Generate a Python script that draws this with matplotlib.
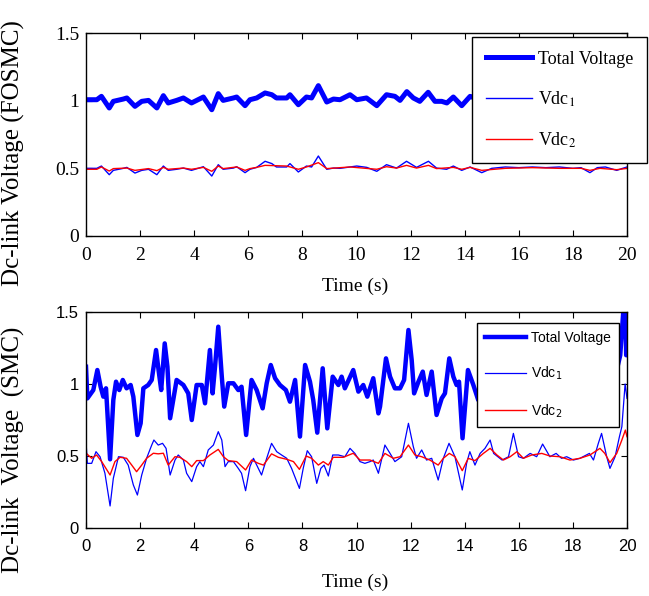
import numpy as np
import matplotlib.pyplot as plt

# ---- data ----
# upper panel (FOSMC)
t_fo_total = [0.0, 0.40, 0.57, 0.86, 1.01, 1.38, 1.51, 1.81, 2.06, 2.31, 2.62, 2.86, 3.04, 3.35,
              3.60, 3.90, 4.34, 4.65, 4.89, 5.07, 5.45, 5.57, 5.88, 6.06, 6.31, 6.62, 6.87, 7.04,
              7.42, 7.54, 7.85, 8.15, 8.34, 8.59, 8.90, 9.15, 9.39, 9.76, 10.01, 10.37, 10.75,
              11.11, 11.42, 11.61, 11.86, 12.10, 12.34, 12.65, 12.90, 13.15, 13.34, 13.58, 13.89,
              14.20, 14.50, 15.0, 15.5, 16.0, 16.5, 17.0, 17.5, 18.0, 18.6, 19.0, 19.6, 20.0]
fo_total = [1.007, 1.007, 1.032, 0.946, 0.995, 1.012, 1.020, 0.958, 0.995, 1.002, 0.946, 1.037,
            0.983, 1.002, 1.020, 0.983, 1.027, 0.933, 1.052, 1.002, 1.020, 1.027, 0.963, 1.007,
            1.020, 1.057, 1.044, 1.020, 1.020, 1.044, 0.970, 1.027, 1.020, 1.111, 0.990, 1.012,
            1.007, 1.044, 1.007, 1.020, 0.963, 1.044, 1.032, 1.002, 1.067, 1.020, 0.995, 1.062,
            0.995, 0.995, 0.983, 1.027, 0.963, 1.032, 1.010, 1.000, 1.020, 0.990, 1.020, 1.000,
            1.010, 1.000, 0.970, 1.010, 0.980, 1.010]

t_fo_v1 = [0.0, 0.40, 0.57, 0.86, 1.01, 1.38, 1.51, 1.81, 2.06, 2.31, 2.62, 2.86, 3.04, 3.35,
           3.60, 3.90, 4.34, 4.65, 4.89, 5.07, 5.45, 5.57, 5.88, 6.06, 6.31, 6.62, 6.87, 7.04,
           7.42, 7.54, 7.85, 8.15, 8.34, 8.59, 8.90, 9.15, 9.39, 9.76, 10.01, 10.38, 10.75,
           11.11, 11.48, 11.85, 12.22, 12.66, 12.96, 13.33, 13.58, 13.89, 14.20, 14.63, 15.0,
           15.5, 16.0, 16.5, 17.0, 17.5, 18.0, 18.3, 18.63, 18.9, 19.2, 19.62, 20.0]
fo_v1 = [0.500, 0.500, 0.517, 0.453, 0.485, 0.500, 0.507, 0.465, 0.485, 0.493, 0.453, 0.517,
         0.485, 0.493, 0.502, 0.485, 0.512, 0.443, 0.527, 0.493, 0.502, 0.512, 0.468, 0.493,
         0.507, 0.552, 0.535, 0.510, 0.510, 0.535, 0.473, 0.517, 0.510, 0.591, 0.493, 0.502,
         0.500, 0.510, 0.517, 0.507, 0.478, 0.527, 0.502, 0.552, 0.507, 0.552, 0.502, 0.493,
         0.517, 0.485, 0.510, 0.468, 0.500, 0.510, 0.505, 0.510, 0.505, 0.510, 0.500, 0.505,
         0.468, 0.505, 0.510, 0.485, 0.510]

t_fo_v2 = [0.0, 0.40, 0.57, 0.86, 1.01, 1.51, 1.81, 2.31, 2.62, 2.86, 3.04, 3.60, 3.90, 4.34,
           4.65, 4.89, 5.07, 5.57, 5.88, 6.06, 6.31, 6.62, 7.42, 7.85, 8.15, 8.59, 8.90, 9.76,
           10.75, 11.11, 11.48, 11.85, 12.22, 12.66, 12.96, 13.58, 13.89, 14.20, 14.63, 15.5,
           16.5, 17.5, 18.3, 18.63, 19.0, 19.62, 20.0]
fo_v2 = [0.493, 0.493, 0.510, 0.480, 0.498, 0.502, 0.485, 0.498, 0.483, 0.507, 0.493, 0.502,
         0.493, 0.507, 0.478, 0.517, 0.498, 0.510, 0.485, 0.498, 0.507, 0.522, 0.517, 0.493,
         0.510, 0.542, 0.498, 0.510, 0.493, 0.512, 0.502, 0.522, 0.502, 0.522, 0.498, 0.507,
         0.493, 0.507, 0.485, 0.500, 0.505, 0.500, 0.500, 0.485, 0.500, 0.490, 0.500]

# lower panel (SMC)
t_smc_total = [0.0, 0.05, 0.27, 0.42, 0.54, 0.64, 0.74, 0.89, 1.01, 1.11, 1.23, 1.36, 1.50,
               1.65, 1.75, 1.90, 2.02, 2.12, 2.30, 2.43, 2.59, 2.69, 2.78, 2.91, 3.01, 3.11,
               3.35, 3.60, 3.78, 3.91, 4.09, 4.28, 4.40, 4.58, 4.68, 4.77, 4.89, 5.02, 5.11,
               5.26, 5.45, 5.63, 5.75, 5.92, 6.12, 6.31, 6.53, 6.68, 6.83, 6.99, 7.17, 7.39,
               7.54, 7.73, 7.91, 8.10, 8.28, 8.40, 8.55, 8.75, 8.92, 9.12, 9.33, 9.45, 9.57,
               9.88, 10.07, 10.25, 10.40, 10.62, 10.81, 10.87, 11.09, 11.24, 11.42, 11.61,
               11.76, 11.92, 12.04, 12.13, 12.29, 12.45, 12.59, 12.78, 12.96, 13.15, 13.27,
               13.43, 13.58, 13.70, 13.79, 13.92, 14.12, 14.32, 14.50, 15.0, 15.5, 16.0, 16.5,
               17.0, 17.5, 18.0, 18.5, 19.0, 19.5, 19.75, 19.88, 19.93, 19.97, 20.0]
smc_total = [1.120, 0.900, 0.958, 1.097, 0.981, 0.912, 0.970, 0.477, 0.889, 1.016, 0.958, 1.028,
             0.970, 0.993, 0.912, 0.646, 0.727, 0.970, 0.993, 1.028, 1.236, 1.086, 0.958, 1.282,
             1.120, 0.762, 1.028, 0.993, 0.935, 0.750, 0.993, 0.993, 0.866, 1.236, 0.935, 1.120,
             1.398, 1.051, 0.843, 1.005, 1.005, 0.958, 0.981, 0.646, 1.028, 0.958, 0.831, 1.005,
             1.132, 1.040, 0.993, 0.958, 0.877, 1.028, 0.635, 1.132, 1.016, 0.889, 0.662, 1.109,
             0.692, 1.051, 0.993, 1.051, 0.970, 1.097, 0.947, 0.993, 0.912, 1.040, 0.796, 0.843,
             1.178, 1.051, 0.970, 0.970, 1.028, 1.375, 1.167, 0.935, 1.016, 1.086, 0.924, 1.086,
             0.785, 0.900, 0.935, 1.178, 1.051, 0.993, 1.016, 0.623, 1.097, 0.993, 0.889, 1.050,
             0.950, 1.080, 0.980, 1.050, 0.950, 1.020, 0.950, 1.050, 1.000, 1.200, 1.550, 1.600,
             1.200, 1.200]

t_smc_v1 = [0.0, 0.05, 0.21, 0.37, 0.52, 0.70, 0.89, 1.01, 1.20, 1.38, 1.56, 1.75, 1.90, 2.06,
            2.24, 2.43, 2.51, 2.67, 2.83, 2.96, 3.11, 3.29, 3.41, 3.60, 3.72, 3.91, 4.09, 4.21,
            4.34, 4.52, 4.71, 4.89, 5.02, 5.14, 5.26, 5.45, 5.63, 5.75, 5.90, 6.06, 6.19, 6.37,
            6.49, 6.68, 6.86, 7.05, 7.23, 7.42, 7.60, 7.89, 8.03, 8.18, 8.34, 8.53, 8.68, 8.80,
            8.96, 9.12, 9.33, 9.57, 9.76, 9.94, 10.13, 10.31, 10.50, 10.62, 10.81, 11.05, 11.24,
            11.42, 11.67, 11.92, 12.10, 12.22, 12.41, 12.59, 12.78, 13.02, 13.21, 13.42, 13.64,
            13.91, 14.07, 14.19, 14.38, 14.57, 14.75, 14.94, 15.07, 15.38, 15.62, 15.80, 15.99,
            16.17, 16.42, 16.66, 16.88, 17.15, 17.38, 17.58, 17.77, 18.02, 18.26, 18.61, 18.76,
            18.94, 19.06, 19.25, 19.37, 19.56, 19.72, 19.81, 19.93, 20.0]
smc_v1 = [0.600, 0.449, 0.449, 0.530, 0.495, 0.380, 0.153, 0.345, 0.495, 0.491, 0.437, 0.299,
          0.229, 0.368, 0.484, 0.576, 0.611, 0.576, 0.588, 0.553, 0.368, 0.472, 0.507, 0.472,
          0.380, 0.322, 0.426, 0.461, 0.426, 0.542, 0.576, 0.669, 0.611, 0.426, 0.461, 0.461,
          0.414, 0.380, 0.259, 0.426, 0.484, 0.414, 0.368, 0.484, 0.588, 0.530, 0.507, 0.484,
          0.414, 0.275, 0.414, 0.537, 0.495, 0.310, 0.414, 0.437, 0.361, 0.507, 0.507, 0.495,
          0.553, 0.518, 0.461, 0.449, 0.461, 0.472, 0.380, 0.576, 0.518, 0.461, 0.495, 0.727,
          0.565, 0.484, 0.542, 0.472, 0.484, 0.333, 0.484, 0.588, 0.495, 0.264, 0.449, 0.530,
          0.437, 0.518, 0.553, 0.611, 0.518, 0.472, 0.495, 0.657, 0.495, 0.484, 0.518, 0.495,
          0.583, 0.495, 0.518, 0.484, 0.495, 0.472, 0.484, 0.518, 0.472, 0.588, 0.657, 0.495,
          0.414, 0.495, 0.634, 0.704, 1.000, 0.900]

t_smc_v2 = [0.0, 0.21, 0.39, 0.58, 0.89, 1.07, 1.26, 1.50, 1.69, 1.87, 2.06, 2.24, 2.49, 2.67,
            2.86, 3.04, 3.29, 3.47, 3.72, 3.91, 4.09, 4.34, 4.58, 4.89, 5.08, 5.26, 5.57, 5.90,
            6.12, 6.37, 6.56, 6.86, 7.11, 7.42, 7.67, 7.89, 8.14, 8.34, 8.59, 8.77, 8.96, 9.14,
            9.51, 9.88, 10.13, 10.50, 10.81, 11.05, 11.36, 11.61, 11.92, 12.16, 12.41, 12.71,
            13.02, 13.21, 13.43, 13.64, 13.91, 14.13, 14.38, 14.69, 14.94, 15.19, 15.43, 15.68,
            15.93, 16.17, 16.48, 16.85, 17.15, 17.52, 17.89, 18.26, 18.63, 19.00, 19.18, 19.37,
            19.62, 19.81, 19.94, 20.0]
smc_v2 = [0.520, 0.484, 0.507, 0.461, 0.368, 0.461, 0.491, 0.484, 0.437, 0.391, 0.437, 0.484,
          0.519, 0.515, 0.519, 0.437, 0.495, 0.491, 0.461, 0.426, 0.468, 0.468, 0.507, 0.546,
          0.495, 0.468, 0.461, 0.403, 0.472, 0.449, 0.437, 0.515, 0.491, 0.477, 0.461, 0.407,
          0.500, 0.484, 0.437, 0.461, 0.437, 0.491, 0.491, 0.519, 0.472, 0.472, 0.449, 0.518,
          0.484, 0.495, 0.576, 0.507, 0.495, 0.472, 0.437, 0.484, 0.518, 0.495, 0.398, 0.484,
          0.468, 0.518, 0.553, 0.507, 0.472, 0.495, 0.530, 0.484, 0.507, 0.518, 0.500, 0.495,
          0.472, 0.484, 0.507, 0.553, 0.518, 0.454, 0.518, 0.611, 0.680, 0.634]

x_ticks = [0, 2, 4, 6, 8, 10, 12, 14, 16, 18, 20]
y_ticks = [0, 0.5, 1, 1.5]
y_ticklabels = ['0', '0.5', '1', '1.5']
legend_labels = ['Total Voltage', 'Vdc$_1$', 'Vdc$_2$']

BLUE = '#0000ff'
RED = '#ff0000'
SERIF = ['Liberation Serif', 'DejaVu Serif']
SANS = ['Liberation Sans', 'DejaVu Sans']

fig = plt.figure(figsize=(6.49, 5.96), dpi=100)
W, H = 649, 596
ax1 = fig.add_axes([86/W, 1-236/H, 541/W, 203/H])
ax2 = fig.add_axes([86/W, 1-528/H, 541/W, 216/H])


def style_axes(ax, fam, tsize):
    ax.set_xlim(0, 20)
    ax.set_ylim(0, 1.5)
    ax.set_xticks(x_ticks)
    ax.set_yticks(y_ticks)
    ax.set_yticklabels(y_ticklabels)
    ax.tick_params(direction='in', top=True, right=True, length=4, width=0.8,
                   labelsize=tsize)
    ax.tick_params(axis='x', pad=8)
    ax.tick_params(axis='y', pad=5)
    for lab in ax.get_xticklabels() + ax.get_yticklabels():
        lab.set_family(fam)
    for s in ax.spines.values():
        s.set_linewidth(1.0)


# upper
ax1.plot(t_fo_total, fo_total, color=BLUE, lw=3.6, label=legend_labels[0])
ax1.plot(t_fo_v1, fo_v1, color=BLUE, lw=1.0, label=legend_labels[1])
ax1.plot(t_fo_v2, fo_v2, color=RED, lw=1.0, label=legend_labels[2])
style_axes(ax1, SERIF, 14)
ax1.set_xlabel('Time (s)', family=SERIF, fontsize=14)
ax1.xaxis.set_label_coords(0.497, -0.205)
ax1.set_ylabel('Dc-link Voltage (FOSMC)', family=SERIF, fontsize=18)
ax1.yaxis.set_label_coords(-0.112, 0.41)
leg1 = ax1.legend(loc='upper left', bbox_to_anchor=(0.7135, 0.98), borderaxespad=0,
                  frameon=True, fancybox=False, edgecolor='black', framealpha=1,
                  borderpad=0.75, labelspacing=1.2, handlelength=2.6, handletextpad=0.3,
                  prop=dict(family=SERIF, size=13, math_fontfamily='stix'))
leg1.get_frame().set_linewidth(1.0)
leg1.set_zorder(5)

# lower
ax2.plot(t_smc_total, smc_total, color=BLUE, lw=3.2, label=legend_labels[0])
ax2.plot(t_smc_v1, smc_v1, color=BLUE, lw=0.9, label=legend_labels[1])
ax2.plot(t_smc_v2, smc_v2, color=RED, lw=1.0, label=legend_labels[2])
style_axes(ax2, SANS, 12)
ax2.set_xlabel('Time (s)', family=SERIF, fontsize=14)
ax2.xaxis.set_label_coords(0.497, -0.21)
ax2.set_ylabel('Dc-link  Voltage  (SMC)', family=SERIF, fontsize=18)
ax2.yaxis.set_label_coords(-0.112, 0.36)
leg2 = ax2.legend(loc='upper left', bbox_to_anchor=(0.7227, 0.949), borderaxespad=0,
                  frameon=True, fancybox=False, edgecolor='black', framealpha=1,
                  borderpad=0.55, labelspacing=1.45, handlelength=3.0, handletextpad=0.35,
                  prop=dict(family=SANS, size=10, math_fontfamily='dejavusans'))
leg2.get_frame().set_linewidth(1.0)
leg2.set_zorder(5)

fig.savefig('out.png', dpi=100)
